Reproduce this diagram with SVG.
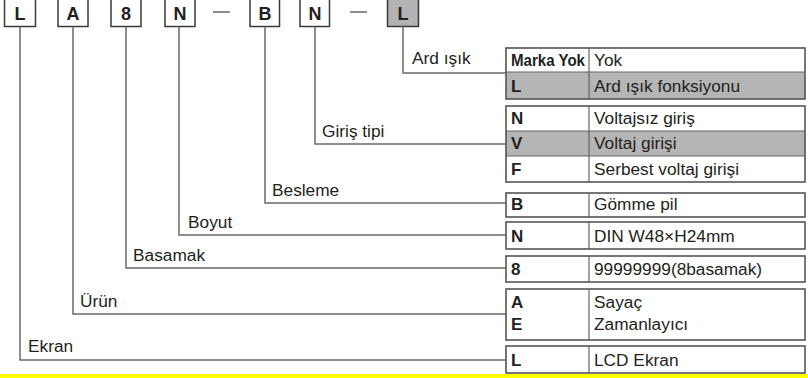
<svg xmlns="http://www.w3.org/2000/svg" width="808" height="378" viewBox="0 0 808 378">
<style>
.box{fill:#fff;stroke:#3a3a3a;stroke-width:1.5}
.boxg{fill:#b3b3b3;stroke:#3a3a3a;stroke-width:1.5}
.bl{font-family:"Liberation Sans",Arial,sans-serif;font-weight:bold;font-size:18px;fill:#231f20;text-anchor:middle}
.ln{fill:none;stroke:#6a6a6a;stroke-width:1.5}
.lab{font-family:"Liberation Sans",Arial,sans-serif;font-size:17.3px;fill:#231f20}
.tb{fill:none;stroke:#555;stroke-width:1.6}
.row{fill:#b5b5b5}
.div{stroke:#666;stroke-width:1.2}
.k{font-family:"Liberation Sans",Arial,sans-serif;font-weight:bold;font-size:17px;fill:#231f20}
.v{font-family:"Liberation Sans",Arial,sans-serif;font-size:17.3px;fill:#231f20}
</style>
<rect width="808" height="378" fill="#fff"/>
<rect x="0" y="374" width="808" height="4" fill="#ffff00"/>

<g id="code">
<g id="c1"><rect class="box" x="4.5" y="-2" width="31" height="28.5"/><text class="bl" x="20" y="20">L</text></g>
<g id="c2"><rect class="box" x="58" y="-2" width="30" height="28.5"/><text class="bl" x="73" y="20">A</text></g>
<g id="c3"><rect class="box" x="111" y="-2" width="30" height="28.5"/><text class="bl" x="126" y="20">8</text></g>
<g id="c4"><rect class="box" x="165" y="-2" width="30" height="28.5"/><text class="bl" x="180" y="20">N</text></g>
<line class="ln" x1="213" y1="12" x2="230" y2="12"/>
<g id="c5"><rect class="box" x="250" y="-2" width="29.5" height="28.5"/><text class="bl" x="265" y="20">B</text></g>
<g id="c6"><rect class="box" x="300" y="-2" width="29.5" height="28.5"/><text class="bl" x="315" y="20">N</text></g>
<line class="ln" x1="350" y1="12" x2="367" y2="12"/>
<g id="c7"><rect class="boxg" x="387.5" y="-2" width="31" height="28.5"/><text class="bl" x="403" y="20">L</text></g>
</g>

<g id="connectors">
<polyline class="ln" points="403,26.5 403,73 506,73"/>
<polyline class="ln" points="315,26.5 315,144 506,144"/>
<polyline class="ln" points="265,26.5 265,203 506,203"/>
<polyline class="ln" points="179,26.5 179,235 506,235"/>
<polyline class="ln" points="126,26.5 126,268 506,268"/>
<polyline class="ln" points="73,26.5 73,314 506,314"/>
<polyline class="ln" points="20,26.5 20,360 506,360"/>
</g>

<g id="labels">
<text class="lab" x="412" y="64">Ard ışık</text>
<text class="lab" x="322" y="137">Giriş tipi</text>
<text class="lab" x="272" y="196">Besleme</text>
<text class="lab" x="188" y="228">Boyut</text>
<text class="lab" x="133" y="261">Basamak</text>
<text class="lab" x="80" y="307">Ürün</text>
<text class="lab" x="28" y="352">Ekran</text>
</g>

<g id="t1">
<rect class="row" x="506" y="72" width="299" height="27"/>
<line class="div" x1="506" y1="72" x2="805" y2="72"/>
<line class="div" x1="589" y1="48" x2="589" y2="99"/>
<rect class="tb" x="506" y="48" width="299" height="51"/>
<text class="k" x="511" y="66" textLength="74" lengthAdjust="spacingAndGlyphs">Marka Yok</text><text class="v" x="594" y="66">Yok</text>
<text class="k" x="511" y="92">L</text><text class="v" x="594" y="92">Ard ışık fonksiyonu</text>
</g>

<g id="t2">
<rect class="row" x="506" y="131" width="299" height="25"/>
<line class="div" x1="506" y1="131" x2="805" y2="131"/>
<line class="div" x1="506" y1="156" x2="805" y2="156"/>
<line class="div" x1="589" y1="106" x2="589" y2="182"/>
<rect class="tb" x="506" y="106" width="299" height="76"/>
<text class="k" x="511" y="124">N</text><text class="v" x="594" y="124">Voltajsız giriş</text>
<text class="k" x="511" y="149">V</text><text class="v" x="594" y="149">Voltaj girişi</text>
<text class="k" x="511" y="175">F</text><text class="v" x="594" y="175">Serbest voltaj girişi</text>
</g>

<g id="t3">
<line class="div" x1="589" y1="193" x2="589" y2="217"/>
<rect class="tb" x="506" y="193" width="299" height="24"/>
<text class="k" x="511" y="210">B</text><text class="v" x="594" y="210">Gömme pil</text>
</g>

<g id="t4">
<line class="div" x1="589" y1="222" x2="589" y2="249"/>
<rect class="tb" x="506" y="222" width="299" height="27"/>
<text class="k" x="511" y="242">N</text><text class="v" x="594" y="242">DIN W48×H24mm</text>
</g>

<g id="t5">
<line class="div" x1="589" y1="256" x2="589" y2="282"/>
<rect class="tb" x="506" y="256" width="299" height="26"/>
<text class="k" x="511" y="275">8</text><text class="v" x="594" y="275">99999999(8basamak)</text>
</g>

<g id="t6">
<line class="div" x1="589" y1="289" x2="589" y2="340"/>
<rect class="tb" x="506" y="289" width="299" height="51"/>
<text class="k" x="511" y="308">A</text><text class="v" x="594" y="308">Sayaç</text>
<text class="k" x="511" y="330">E</text><text class="v" x="594" y="330">Zamanlayıcı</text>
</g>

<g id="t7">
<line class="div" x1="589" y1="346" x2="589" y2="373"/>
<rect class="tb" x="506" y="346" width="299" height="27"/>
<text class="k" x="511" y="366">L</text><text class="v" x="594" y="366">LCD Ekran</text>
</g>
</svg>
